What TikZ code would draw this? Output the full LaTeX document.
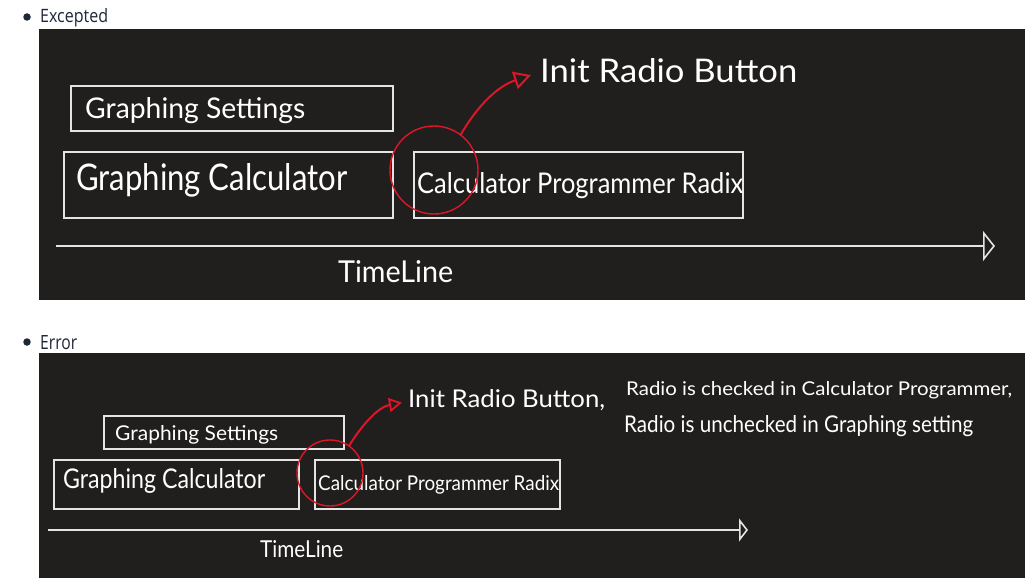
\documentclass[tikz,border=0pt]{standalone}
\usepackage{fontspec}
\usepackage{graphicx}
\setmainfont{Open Sans}
\newfontfamily\handfont{Lato}
\usetikzlibrary{arrows.meta}
\newcommand{\hwtext}[3]{\resizebox{#1pt}{#2pt}{\handfont #3}}
\definecolor{panel}{RGB}{32,31,30}
\definecolor{chalk}{RGB}{228,228,228}
\definecolor{pen}{RGB}{222,22,40}
\definecolor{labeltext}{RGB}{30,38,58}
\tikzset{
  panelbg/.style={fill=panel, draw=none},
  boxnode/.style={rectangle, draw=chalk, line width=1.6pt, inner sep=0pt},
  hand/.style={text=white, inner sep=0pt, anchor=base west},
  ring/.style={circle, draw=pen, line width=1.4pt, inner sep=0pt},
  redarrow/.style={draw=pen, line width=2pt, line cap=round, line join=round},
  timeline/.style={draw=chalk, line width=1.6pt, line join=round},
  bullettext/.style={text=labeltext, inner sep=0pt, anchor=base west},
  bulletdot/.style={circle, fill=labeltext, inner sep=0pt, minimum size=7.5pt}
}
\begin{document}
\begin{tikzpicture}[x=1pt, y=-1pt]
\useasboundingbox[fill=white] (0,0) rectangle (1035,586);

% ---------- Excepted ----------
\node[bulletdot] (b1) at (27,17) {};
\node[bullettext] (lab1) at (40,23) {\resizebox{68pt}{14pt}{Excepted}};
\fill[panelbg] (39,29) rectangle (1025,300);

\node[boxnode, minimum width=322pt, minimum height=45pt] (gs1) at (232,108.5) {};
\node[boxnode, minimum width=329pt, minimum height=66pt] (gc1) at (228.5,185) {};
\node[boxnode, minimum width=329pt, minimum height=66pt] (cp1) at (578.5,185) {};

\node[hand] (gs1t) at (85,118) {\hwtext{220}{21}{Graphing Settings}};
\node[hand] (gc1t) at (76,190) {\hwtext{271}{27}{Graphing Calculator}};
\node[hand] (cp1t) at (417,193) {\hwtext{326}{21}{Calculator Programmer Radix}};
\node[hand] (init1) at (540,82) {\hwtext{257}{24}{Init Radio Button}};
\node[hand] (tl1t) at (338,282) {\hwtext{115}{22}{TimeLine}};

\node[ring, minimum size=88pt] (c1) at (434,170) {};
\draw[redarrow, -{Triangle[open, length=17pt, width=18pt, line width=2pt]}]
  (c1.53) .. controls (478,105) and (498,86) .. ([xshift=-9pt, yshift=-5pt]init1.west);

\coordinate (t1s) at (56,246);
\coordinate (t1e) at (995,246);
\draw[timeline, -{Triangle[open, length=12pt, width=30pt, line width=1.6pt]}] (t1s) -- (t1e);

% ---------- Error ----------
\node[bulletdot] (b2) at (27,342) {};
\node[bullettext] (lab2) at (40,349) {\resizebox{37pt}{14pt}{Error}};
\fill[panelbg] (39,353) rectangle (1025,578);

\node[boxnode, minimum width=240pt, minimum height=33pt] (gs2) at (224,432.5) {};
\node[boxnode, minimum width=245pt, minimum height=49pt] (gc2) at (176.5,484.5) {};
\node[boxnode, minimum width=245pt, minimum height=49pt] (cp2) at (437.5,484.5) {};

\node[hand] (gs2t) at (115,440) {\hwtext{163}{15}{Graphing Settings}};
\node[hand] (gc2t) at (63,488) {\hwtext{202}{20}{Graphing Calculator}};
\node[hand] (cp2t) at (318,490) {\hwtext{241}{15}{Calculator Programmer Radix}};
\node[hand] (init2) at (408,407) {\hwtext{197}{18}{Init Radio Button,}};
\node[hand] (note1) at (626,395) {\hwtext{386}{14}{Radio is checked in Calculator Programmer,}};
\node[hand] (note2) at (624,432) {\hwtext{349}{17}{Radio is unchecked in Graphing setting}};
\node[hand] (tl2t) at (260,557) {\hwtext{83}{17}{TimeLine}};

\node[ring, minimum size=66pt] (c2) at (330,473) {};
\draw[redarrow, -{Triangle[open, length=13pt, width=14pt, line width=1.8pt]}]
  (c2.55) .. controls (362,425) and (378,407) .. ([xshift=-6pt, yshift=-3pt]init2.west);

\coordinate (t2s) at (48,530);
\coordinate (t2e) at (748,530);
\draw[timeline, -{Triangle[open, length=9pt, width=23pt, line width=1.6pt]}] (t2s) -- (t2e);
\end{tikzpicture}
\end{document}
